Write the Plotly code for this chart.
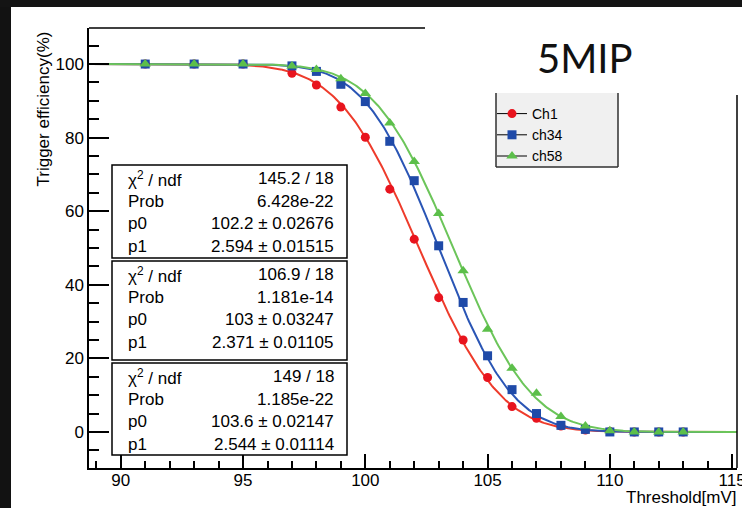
import math
import plotly.graph_objects as go

# ---------------- data ----------------
threshold = [91, 93, 95, 97, 98, 99, 100, 101, 102, 103, 104, 105, 106, 107, 108, 109, 110, 111, 112, 113]
eff_ch1 = [100, 100, 100, 97.5, 94.3, 88.3, 80.1, 66.0, 52.4, 36.5, 25.0, 14.8, 6.9, 3.7, 1.6, 0.5, 0.1, 0, 0, 0]
eff_ch34 = [100, 100, 100, 99.5, 98.0, 94.5, 89.8, 79.0, 68.3, 50.6, 35.2, 20.7, 11.5, 5.0, 1.8, 0.7, 0, 0, 0, 0]
eff_ch58 = [100, 100, 100, 99.5, 98.5, 96.0, 92.0, 84.0, 73.5, 59.4, 43.8, 27.9, 17.3, 10.5, 4.2, 1.6, 0.3, 0, 0, 0]

series_names = ["Ch1", "ch34", "ch58"]
series_values = [eff_ch1, eff_ch34, eff_ch58]

# fit results shown in the stat boxes (fit: 100 * (1 - Phi((x - p0) / p1)))
fit_p0 = [102.2, 103.0, 103.6]
fit_p1 = [2.594, 2.371, 2.544]
stat_chi2 = ["145.2 / 18", "106.9 / 18", "149 / 18"]
stat_prob = ["6.428e-22", "1.181e-14", "1.185e-22"]
stat_p0 = ["102.2 ± 0.02676", "103 ± 0.03247", "103.6 ± 0.02147"]
stat_p1 = ["2.594 ± 0.01515", "2.371 ± 0.01105", "2.544 ± 0.01114"]

x_ticks = [90, 95, 100, 105, 110, 115]
y_ticks = [0, 20, 40, 60, 80, 100]

# ---------------- style ----------------
W, H = 742, 508
L, R, T, B = 89, 737, 28, 468
X_RANGE = [88.7, 115.2]
Y_RANGE = [-9.8, 109.8]
point_colors = ["#e8141e", "#1f4aa8", "#5cbf4a"]
line_colors = ["#ee3b2b", "#2a55b5", "#6cc55a"]
symbols = ["circle", "square", "triangle-up"]
sizes = [9, 9, 10]
FONT = "Liberation Sans, Arial, sans-serif"


def px(x):
    return (x - L) / (R - L)


def py(y):
    return (B - y) / (B - T)


fig = go.Figure()

# fit curves
n = 400
xs = [X_RANGE[0] + (X_RANGE[1] - X_RANGE[0]) * i / (n - 1) for i in range(n)]
for i in range(3):
    ys = [50.0 * math.erfc((x - fit_p0[i]) / (fit_p1[i] * math.sqrt(2))) for x in xs]
    fig.add_trace(go.Scatter(x=xs, y=ys, mode="lines", showlegend=False,
                             line=dict(color=line_colors[i], width=2), hoverinfo="skip"))

# data points
for i in range(3):
    fig.add_trace(go.Scatter(x=threshold, y=series_values[i], mode="markers", showlegend=False,
                             marker=dict(symbol=symbols[i], size=sizes[i], color=point_colors[i],
                                         line=dict(width=0)),
                             name=series_names[i]))

# legend entries
for i in range(3):
    fig.add_trace(go.Scatter(x=[None], y=[None], mode="lines+markers", name=series_names[i],
                             line=dict(color="black", width=1),
                             marker=dict(symbol=symbols[i], size=sizes[i], color=point_colors[i],
                                         line=dict(width=0))))

shapes = []
# dark photo border (top & left)
shapes.append(dict(type="rect", xref="paper", yref="paper", x0=px(0), x1=px(11), y0=py(H), y1=py(0),
                   fillcolor="#121212", line=dict(width=0), layer="above"))
shapes.append(dict(type="rect", xref="paper", yref="paper", x0=px(0), x1=px(W), y0=py(7), y1=py(0),
                   fillcolor="#141414", line=dict(width=0), layer="above"))
# partial top frame and right frame
shapes.append(dict(type="line", xref="paper", yref="paper", x0=px(L), x1=px(425), y0=py(T), y1=py(T),
                   line=dict(color="black", width=1.5)))
shapes.append(dict(type="line", xref="paper", yref="paper", x0=px(R), x1=px(R), y0=py(95), y1=py(B),
                   line=dict(color="black", width=1.5)))
# legend box (top edge hidden)
lx0, lx1, ly0, ly1 = 496, 618, 93, 167
shapes.append(dict(type="rect", xref="paper", yref="paper", x0=px(lx0), x1=px(lx1), y0=py(ly1), y1=py(ly0),
                   fillcolor="#f0f0f0", line=dict(width=0), layer="below"))
for (a, b, c, d) in [(lx0, ly0, lx0, ly1), (lx1, ly0, lx1, ly1), (lx0, ly1, lx1, ly1)]:
    shapes.append(dict(type="line", xref="paper", yref="paper", x0=px(a), x1=px(c), y0=py(b), y1=py(d),
                       line=dict(color="#303030", width=1.5)))

# stat boxes
box_tops = [165, 261, 363]
box_bots = [258, 360, 455]
bx0, bx1 = 112, 347
annotations = []
for k in range(3):
    shapes.append(dict(type="rect", xref="paper", yref="paper", x0=px(bx0), x1=px(bx1),
                       y0=py(box_bots[k]), y1=py(box_tops[k]), fillcolor="white",
                       line=dict(color="black", width=1.5), layer="above"))
    labels = ["χ<sup>2</sup> / ndf", "Prob", "p0", "p1"]
    values = [stat_chi2[k], stat_prob[k], stat_p0[k], stat_p1[k]]
    offs = [13.5, 36, 58, 81]
    for lab, val, o in zip(labels, values, offs):
        yc = box_tops[k] + o
        annotations.append(dict(xref="paper", yref="paper", x=px(126), y=py(yc), text=lab,
                                showarrow=False, xanchor="left", yanchor="middle",
                                font=dict(family=FONT, size=17, color="black")))
        annotations.append(dict(xref="paper", yref="paper", x=px(336), y=py(yc), text=val,
                                showarrow=False, xanchor="right", yanchor="middle",
                                font=dict(family=FONT, size=17, color="black")))

# axis titles and big label
annotations.append(dict(xref="paper", yref="paper", x=px(43), y=py(30), text="Trigger efficiency(%)",
                        textangle=-90, showarrow=False, xanchor="center", yanchor="top",
                        font=dict(family=FONT, size=17, color="black")))
annotations.append(dict(xref="paper", yref="paper", x=px(739), y=py(497), text="Threshold[mV]",
                        showarrow=False, xanchor="right", yanchor="middle",
                        font=dict(family=FONT, size=17, color="black")))
annotations.append(dict(xref="paper", yref="paper", x=px(585), y=py(58), text="5MIP",
                        showarrow=False, xanchor="center", yanchor="middle",
                        font=dict(family="Lato, sans-serif", size=40, color="#111111")))

fig.update_layout(
    width=W, height=H,
    margin=dict(l=L, r=W - R, t=T, b=H - B, pad=0, autoexpand=False),
    paper_bgcolor="white", plot_bgcolor="white",
    shapes=shapes, annotations=annotations,
    legend=dict(x=px(492), y=py(98), xanchor="left", yanchor="top",
                bgcolor="rgba(0,0,0,0)", borderwidth=0, itemwidth=30,
                font=dict(family=FONT, size=14, color="black"), tracegroupgap=0),
    xaxis=dict(range=X_RANGE, tickvals=x_ticks, ticks="inside", ticklen=14, tickwidth=1.5,
               tickcolor="black", showline=True, linecolor="black", linewidth=1.5,
               showgrid=False, zeroline=False, ticklabeloverflow="allow", ticklabelstandoff=-4,
               automargin=False,
               minor=dict(dtick=1, tick0=90, ticks="inside", ticklen=7, tickwidth=1.5, tickcolor="black",
                          showgrid=False),
               tickfont=dict(family=FONT, size=17, color="black")),
    yaxis=dict(range=Y_RANGE, tickvals=y_ticks, ticks="inside", ticklen=20, tickwidth=1.5,
               tickcolor="black", showline=True, linecolor="black", linewidth=1.5,
               showgrid=False, zeroline=False, automargin=False,
               minor=dict(dtick=5, tick0=0, ticks="inside", ticklen=10, tickwidth=1.5, tickcolor="black",
                          showgrid=False),
               tickfont=dict(family=FONT, size=17, color="black")),
)

fig.write_html("out.html")
